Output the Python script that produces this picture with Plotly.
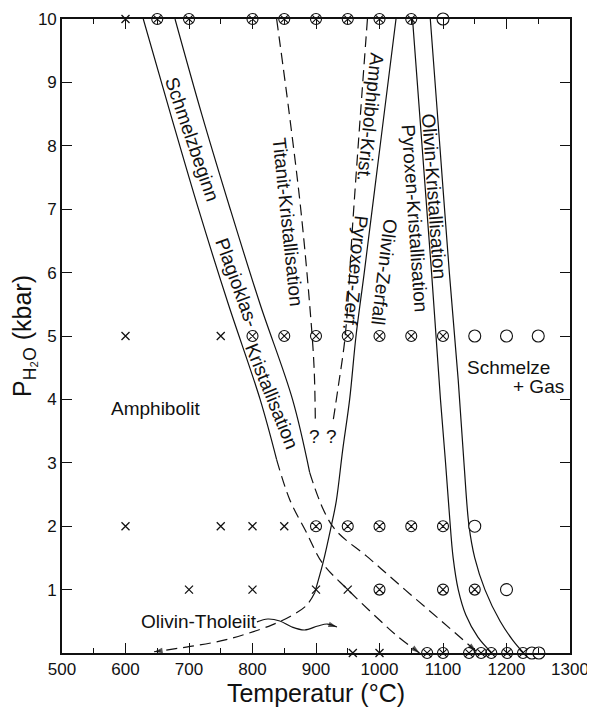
import plotly.graph_objects as go

# ---------------- data ----------------
# experimental runs: (temperature °C, P kbar)
cross_T = [600, 600, 750, 600, 750, 800, 850, 700, 800, 900, 950, 958, 1000]
cross_P = [10, 5, 5, 2, 2, 2, 2, 1, 1, 1, 1, 0, 0]

otimes_T = [650, 700, 800, 850, 900, 950, 1000, 1050,
            800, 850, 900, 950, 1000, 1050, 1100,
            900, 950, 1000, 1050, 1100,
            1000, 1100, 1150,
            1075, 1100, 1141, 1160, 1176, 1201, 1226]
otimes_P = [10, 10, 10, 10, 10, 10, 10, 10,
            5, 5, 5, 5, 5, 5, 5,
            2, 2, 2, 2, 2,
            1, 1, 1,
            0, 0, 0, 0, 0, 0, 0]

circle_T = [1100, 1150, 1200, 1250, 1150, 1200, 1240, 1251]
circle_P = [10, 5, 5, 5, 2, 1, 0, 0]

# phase boundaries
schmelz_solid_T = [628, 671, 715, 762, 812, 838]
schmelz_solid_P = [10, 8.5, 7, 5.5, 4.0, 3.05]
schmelz_dash_T = [838, 859, 885, 910, 950, 1000, 1030, 1063]
schmelz_dash_P = [3.05, 2.41, 1.9, 1.42, 1.0, 0.52, 0.25, 0.0]

plag_solid_T = [678, 720, 765, 812, 863, 890]
plag_solid_P = [10, 8.5, 7, 5.5, 4.0, 2.85]
plag_dash_T = [890, 926, 983, 1040, 1098, 1152]
plag_dash_P = [2.85, 2.0, 1.5, 1.0, 0.5, 0.03]

titanit_T = [838, 858, 876, 890, 897, 899]
titanit_P = [10, 8.5, 7, 5.5, 4.5, 3.6]

amphibol_T = [981, 970, 958, 946, 935, 926]
amphibol_P = [10, 8.5, 6.8, 5.0, 4.2, 3.6]

olzerf_solid_T = [1026, 1001, 976, 963, 953, 942, 932, 924, 911, 898]
olzerf_solid_P = [10, 8, 6, 5, 4, 3.2, 2.4, 2.0, 1.42, 0.95]
olzerf_dash_T = [898, 885, 860, 830, 790, 750, 700, 645]
olzerf_dash_P = [0.95, 0.75, 0.58, 0.44, 0.3, 0.19, 0.1, 0.02]

pyrox_T = [1052, 1067, 1082, 1096, 1104, 1110, 1116, 1124, 1136, 1155, 1177]
pyrox_P = [10, 8, 6, 4, 3, 2.2, 1.5, 1.0, 0.6, 0.25, 0.0]

olkrist_T = [1080, 1095, 1110, 1124, 1133, 1141, 1150, 1166, 1190, 1210, 1227]
olkrist_P = [10, 8, 6, 4.3, 3.0, 2.0, 1.5, 1.0, 0.5, 0.2, 0.0]

squiggle_T = [807, 824, 843, 862, 882, 903, 918, 933]
squiggle_P = [0.49, 0.536, 0.505, 0.41, 0.363, 0.426, 0.457, 0.41]

x_ticks = [500, 600, 700, 800, 900, 1000, 1100, 1200, 1300]
y_ticks = [1, 2, 3, 4, 5, 6, 7, 8, 9, 10]

# labels: (text, T, P, angle)
labels = [
    ("Schmelzbeginn", 705, 8.1, 71),
    ("Plagioklas-", 776, 5.85, 70),
    ("Kristallisation", 831, 4.05, 68),
    ("Titanit-Kristallisation", 855, 6.8, 84),
    ("Amphibol-Krist.", 986, 8.45, 96),
    ("Pyroxen-Zerf.", 962, 6.0, 96),
    ("Olivin-Zerfall", 1007, 6.0, 97),
    ("Pyroxen-Kristallisation", 1055, 6.85, 86),
    ("Olivin-Kristallisation", 1086, 7.2, 86),
    ("Amphibolit", 647, 3.86, 0),
    ("Schmelze", 1203, 4.51, 0),
    ("+ Gas", 1250, 4.2, 0),
    ("Olivin-Tholeiit", 716, 0.49, 0),
    ("?", 898, 3.42, 0),
    ("?", 924, 3.42, 0),
]

FONT = "Liberation Sans, Arial, Helvetica, sans-serif"
BLK = "#111111"

fig = go.Figure()


def add_line(T, P, dash=None, arrow=False):
    fig.add_trace(go.Scatter(
        x=T, y=P, mode="lines", line_shape="spline",
        line=dict(color=BLK, width=1.2, dash=dash),
        hoverinfo="skip", showlegend=False, cliponaxis=False))
    if arrow:
        # arrowhead at the end of the curve, oriented along its last segment
        fig.add_trace(go.Scatter(
            x=T[-2:], y=P[-2:], mode="markers",
            marker=dict(symbol="arrow", size=[0, 9], angleref="previous", color=BLK,
                        line=dict(width=0)),
            hoverinfo="skip", showlegend=False, cliponaxis=False))


DASH = "11px,6px"
add_line(schmelz_solid_T, schmelz_solid_P)
add_line(schmelz_dash_T, schmelz_dash_P, DASH, arrow=True)
add_line(plag_solid_T, plag_solid_P)
add_line(plag_dash_T, plag_dash_P, DASH, arrow=True)
add_line(titanit_T, titanit_P, DASH)
add_line(amphibol_T, amphibol_P, DASH)
add_line(olzerf_solid_T, olzerf_solid_P)
add_line(olzerf_dash_T, olzerf_dash_P, DASH, arrow=True)
add_line(pyrox_T, pyrox_P)
add_line(olkrist_T, olkrist_P)
add_line(squiggle_T, squiggle_P, arrow=True)

# markers
fig.add_trace(go.Scatter(x=cross_T, y=cross_P, mode="markers",
                         marker=dict(symbol="x-thin-open", size=8, color=BLK,
                                     line=dict(color=BLK, width=1.3)),
                         showlegend=False, cliponaxis=False))
fig.add_trace(go.Scatter(x=otimes_T, y=otimes_P, mode="markers",
                         marker=dict(symbol="circle-x-open", size=11, color=BLK,
                                     line=dict(color=BLK, width=1.1)),
                         showlegend=False, cliponaxis=False))
fig.add_trace(go.Scatter(x=circle_T, y=circle_P, mode="markers",
                         marker=dict(symbol="circle", size=12, color="white",
                                     line=dict(color=BLK, width=1.1)),
                         showlegend=False, cliponaxis=False))

for text, t, p, ang in labels:
    fig.add_annotation(x=t, y=p, text=text, showarrow=False, textangle=ang,
                       font=dict(family=FONT, size=19, color=BLK))

axis_common = dict(showline=True, linecolor=BLK, linewidth=1.6, mirror="allticks",
                   ticks="inside", tickcolor=BLK, tickwidth=1.3, ticklen=10,
                   showgrid=False, zeroline=False, automargin=False,
                   tickfont=dict(family=FONT, size=17, color=BLK))

fig.update_xaxes(range=[500, 1300], tickvals=x_ticks, ticktext=[str(v) for v in x_ticks],
                 minor=dict(ticks="inside", ticklen=5, tickcolor=BLK, tickwidth=1.2, dtick=50,
                            tick0=500),
                 title=dict(text="Temperatur (°C)", font=dict(family=FONT, size=25, color=BLK),
                            standoff=0),
                 **axis_common)
fig.update_yaxes(range=[0, 10], tickvals=y_ticks, ticktext=[str(v) for v in y_ticks],
                 title=dict(text="P<sub>H₂O</sub> (kbar)", font=dict(family=FONT, size=25, color=BLK),
                            standoff=2),
                 **axis_common)

# the page body adds an 8px offset, so the figure is sized to fit inside the window
fig.update_layout(width=587, height=700, paper_bgcolor="white", plot_bgcolor="white",
                  margin=dict(l=54, r=25, t=11, b=55), showlegend=False)

fig.write_html("out.html")
